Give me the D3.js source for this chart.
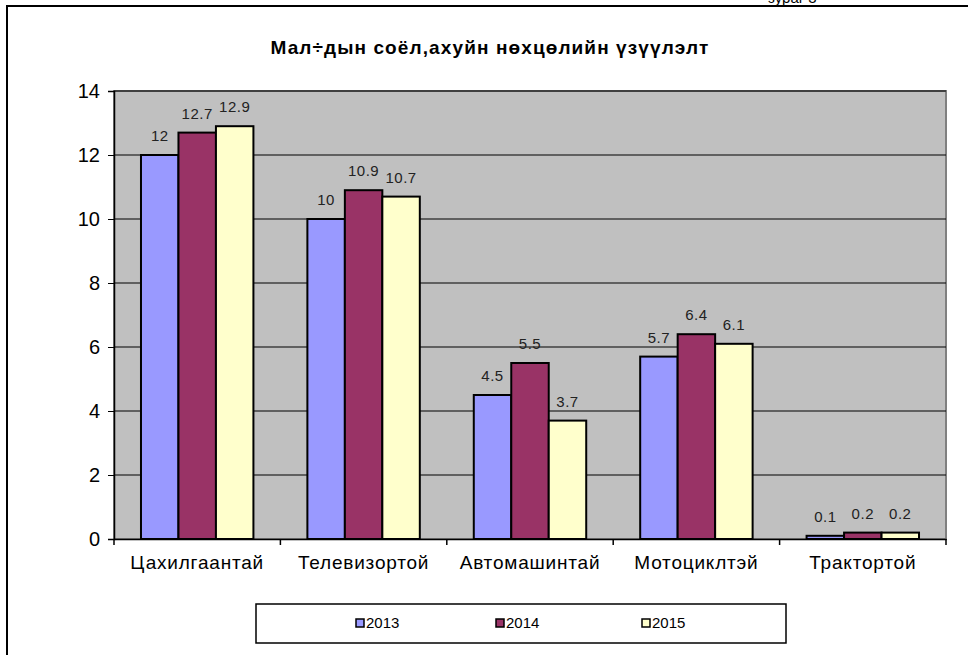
<!DOCTYPE html>
<html lang="mn">
<head>
  <meta charset="UTF-8">
  <title>Мал÷дын соёл,ахуйн нөхцөлийн үзүүлэлт</title>
  <script src="https://d3js.org/d3.v7.min.js"></script>
  <style>
    body { margin: 0; background: #fff; }
    svg { display: block; font-family: Arial, "Liberation Sans", sans-serif; }
  </style>
</head>
<body>
  <svg id="chart" width="968" height="655"></svg>
  <script>
    // data
    const categories = ["Цахилгаантай", "Телевизортой", "Автомашинтай", "Мотоциклтэй", "Трактортой"];
    const years = ["2013", "2014", "2015"];
    const values2013 = [12, 10, 4.5, 5.7, 0.1];
    const values2014 = [12.7, 10.9, 5.5, 6.4, 0.2];
    const values2015 = [12.9, 10.7, 3.7, 6.1, 0.2];
    const yTicks = [0, 2, 4, 6, 8, 10, 12, 14];
    const colors = ["#9999FF", "#993366", "#FFFFCC"];

    const series = [values2013, values2014, values2015];

    const svg = d3.select("#chart");
    const plot = { left: 114, right: 946, top: 91, bottom: 539 };

    // outer frame (only top and left edges show in the picture)
    svg.append("path")
      .attr("d", "M7,655 V6 H968")
      .attr("fill", "none")
      .attr("stroke", "#000")
      .attr("stroke-width", 2);

    svg.append("text")
      .attr("x", 768)
      .attr("y", 3)
      .attr("font-size", "15px")
      .attr("fill", "#000")
      .text("зураг 3");

    svg.append("text")
      .attr("x", 490)
      .attr("y", 54)
      .attr("text-anchor", "middle")
      .attr("font-size", "19px")
      .attr("letter-spacing", "1.1px")
      .attr("font-weight", "bold")
      .text("Мал÷дын соёл,ахуйн  нөхцөлийн  үзүүлэлт");

    const x = d3.scaleBand()
      .domain(categories)
      .range([plot.left, plot.right])
      .paddingInner(0)
      .paddingOuter(0);

    const xInner = d3.scaleBand()
      .domain(years)
      .range([0, x.bandwidth()])
      .paddingOuter(0.72)
      .paddingInner(0);

    const y = d3.scaleLinear()
      .domain([0, 14])
      .range([plot.bottom, plot.top]);

    // plot background
    svg.append("rect")
      .attr("x", plot.left)
      .attr("y", plot.top)
      .attr("width", plot.right - plot.left)
      .attr("height", plot.bottom - plot.top)
      .attr("fill", "#C0C0C0")
      .attr("stroke", "#808080")
      .attr("stroke-width", 2);

    // gridlines
    svg.append("g")
      .selectAll("line")
      .data(yTicks.filter(d => d > 0))
      .join("line")
      .attr("x1", plot.left)
      .attr("x2", plot.right)
      .attr("y1", d => y(d))
      .attr("y2", d => y(d))
      .attr("stroke", "#000")
      .attr("stroke-width", 1);

    // bars
    const groups = svg.append("g")
      .selectAll("g")
      .data(categories)
      .join("g")
      .attr("transform", d => `translate(${x(d)},0)`);

    groups.selectAll("rect")
      .data((c, i) => years.map((yr, j) => ({ yr, j, v: series[j][i] })))
      .join("rect")
      .attr("x", d => xInner(d.yr))
      .attr("y", d => y(d.v))
      .attr("width", xInner.bandwidth())
      .attr("height", d => y(0) - y(d.v))
      .attr("fill", d => colors[d.j])
      .attr("stroke", "#000")
      .attr("stroke-width", 2);

    groups.selectAll("text")
      .data((c, i) => years.map((yr, j) => ({ yr, j, v: series[j][i] })))
      .join("text")
      .attr("x", d => xInner(d.yr) + xInner.bandwidth() / 2)
      .attr("y", d => y(d.v) - 14)
      .attr("text-anchor", "middle")
      .attr("font-size", "15px")
      .attr("letter-spacing", "0.5px")
      .attr("fill", "#222")
      .text(d => d.v);

    // y axis
    const yAxis = svg.append("g")
      .attr("transform", `translate(${plot.left},0)`)
      .call(d3.axisLeft(y).tickValues(yTicks).tickSize(6).tickPadding(8).tickFormat(d3.format("d")));
    yAxis.select(".domain").attr("stroke", "#000").attr("stroke-width", 1.5);
    yAxis.selectAll("text").attr("font-size", "20px").attr("fill", "#000").attr("font-family", "Arial, 'Liberation Sans', sans-serif");

    // x axis
    const xAxis = svg.append("g")
      .attr("transform", `translate(0,${plot.bottom})`)
      .call(d3.axisBottom(x).tickSize(0).tickPadding(17));
    xAxis.select(".domain").attr("stroke", "#000").attr("stroke-width", 1.5);
    xAxis.selectAll("text").attr("font-size", "19px").attr("letter-spacing", "0.8px").attr("fill", "#000").attr("font-family", "Arial, 'Liberation Sans', sans-serif");

    svg.append("g")
      .selectAll("line")
      .data(categories.map(c => x(c)).concat([plot.right]))
      .join("line")
      .attr("x1", d => d)
      .attr("x2", d => d)
      .attr("y1", plot.bottom)
      .attr("y2", plot.bottom + 6)
      .attr("stroke", "#000")
      .attr("stroke-width", 1.5);

    // legend
    const legend = svg.append("g");
    legend.append("rect")
      .attr("x", 256)
      .attr("y", 604)
      .attr("width", 530)
      .attr("height", 39)
      .attr("fill", "#fff")
      .attr("stroke", "#000")
      .attr("stroke-width", 1.5);

    const legendX = [360, 500, 646];
    const items = legend.selectAll("g.item")
      .data(years)
      .join("g")
      .attr("class", "item")
      .attr("transform", (d, i) => `translate(${legendX[i]},623)`);

    items.append("rect")
      .attr("x", -4)
      .attr("y", -4)
      .attr("width", 8)
      .attr("height", 8)
      .attr("fill", (d, i) => colors[i])
      .attr("stroke", "#000")
      .attr("stroke-width", 1.5);

    items.append("text")
      .attr("x", 6)
      .attr("y", 5)
      .attr("font-size", "15px")
      .attr("fill", "#000")
      .text(d => d);
  </script>
</body>
</html>
